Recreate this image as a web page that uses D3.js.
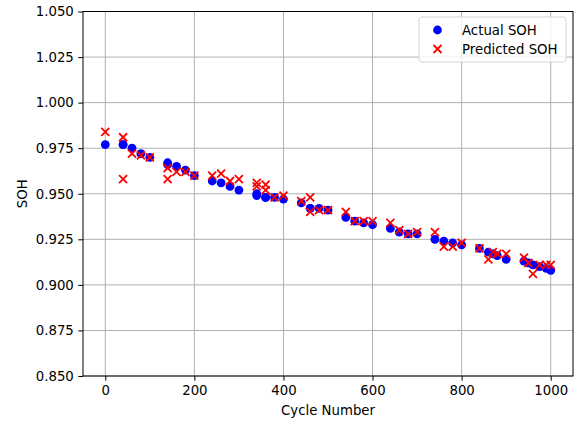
<!DOCTYPE html>
<html>
<head>
<meta charset="utf-8">
<script src="https://cdn.jsdelivr.net/npm/d3@7"></script>
<style>
  body { margin: 0; background: #fff; }
  text { font-family: "DejaVu Sans", sans-serif; fill: #000; }
</style>
</head>
<body>
<div id="chart"></div>
<script>
// cycle numbers of the test samples
const cycles = [0, 40, 40, 60, 80, 100, 140, 140, 160, 180, 200, 240, 260, 280, 300,
  340, 340, 360, 360, 380, 400, 440, 460, 460, 480, 500, 540, 560, 580, 600,
  640, 660, 680, 700, 740, 760, 780, 800, 840, 860, 870, 880, 900, 940, 950, 960, 975, 990, 1000];

const actualSOH = [0.977, 0.977, 0.977, 0.975, 0.972, 0.970, 0.967, 0.966, 0.965, 0.963, 0.960,
  0.957, 0.956, 0.954, 0.952, 0.950, 0.949, 0.948, 0.948, 0.948, 0.947, 0.945, 0.942, 0.942,
  0.942, 0.941, 0.937, 0.935, 0.934, 0.933, 0.931, 0.929, 0.928, 0.928, 0.925, 0.924, 0.923,
  0.922, 0.920, 0.918, 0.917, 0.916, 0.914, 0.913, 0.912, 0.911, 0.910, 0.909, 0.908];

const predictedSOH = [0.984, 0.981, 0.958, 0.972, 0.971, 0.970, 0.964, 0.958, 0.962, 0.962, 0.960,
  0.960, 0.961, 0.957, 0.958, 0.956, 0.954, 0.955, 0.952, 0.948, 0.949, 0.946, 0.948, 0.940,
  0.941, 0.941, 0.940, 0.935, 0.935, 0.935, 0.934, 0.930, 0.928, 0.929, 0.929, 0.921, 0.921,
  0.923, 0.920, 0.914, 0.918, 0.917, 0.917, 0.915, 0.912, 0.906, 0.911, 0.911, 0.911];

const xTicks = [0, 200, 400, 600, 800, 1000];
const yTicks = [0.850, 0.875, 0.900, 0.925, 0.950, 0.975, 1.000, 1.025, 1.050];
const legendLabels = ["Actual SOH", "Predicted SOH"];

const config = {
  width: 576, height: 423,
  margin: {top: 11.5, right: 3, bottom: 47, left: 83},
  fontSize: 13.3
};

const innerW = config.width - config.margin.left - config.margin.right;
const innerH = config.height - config.margin.top - config.margin.bottom;

const svg = d3.select("#chart").append("svg")
    .attr("width", config.width)
    .attr("height", config.height);

const chart = svg.append("g")
    .attr("transform", `translate(${config.margin.left},${config.margin.top})`);

const xScale = d3.scaleLinear().domain([-50, 1050]).range([0, innerW]);
const yScale = d3.scaleLinear().domain([0.85, 1.05]).range([innerH, 0]);

// grid
chart.append("g").selectAll("line").data(xTicks).join("line")
    .attr("x1", d => xScale(d)).attr("x2", d => xScale(d))
    .attr("y1", 0).attr("y2", innerH)
    .attr("stroke", "#b0b0b0").attr("stroke-width", 1);
chart.append("g").selectAll("line").data(yTicks).join("line")
    .attr("x1", 0).attr("x2", innerW)
    .attr("y1", d => yScale(d)).attr("y2", d => yScale(d))
    .attr("stroke", "#b0b0b0").attr("stroke-width", 1);

// axes
const xAxis = d3.axisBottom(xScale).tickValues(xTicks).tickFormat(d3.format("d"))
    .tickSize(4.7).tickPadding(4.5).tickSizeOuter(0);
const yAxis = d3.axisLeft(yScale).tickValues(yTicks).tickFormat(d3.format(".3f"))
    .tickSize(4.7).tickPadding(4.5).tickSizeOuter(0);

const xAxisG = chart.append("g").attr("transform", `translate(0,${innerH})`).call(xAxis);
const yAxisG = chart.append("g").call(yAxis);
[xAxisG, yAxisG].forEach(g => {
  g.select(".domain").remove();
  g.selectAll("line").attr("stroke", "#000").attr("stroke-width", 1);
  g.selectAll("text").attr("font-size", config.fontSize)
    .attr("font-family", "DejaVu Sans").attr("fill", "#000");
});

// spines
chart.append("rect")
    .attr("x", 0).attr("y", 0).attr("width", innerW).attr("height", innerH)
    .attr("fill", "none").attr("stroke", "#000").attr("stroke-width", 1);

const points = cycles.map((c, i) => ({c, a: actualSOH[i], p: predictedSOH[i]}));

// actual
chart.append("g").selectAll("circle").data(points).join("circle")
    .attr("cx", d => xScale(d.c))
    .attr("cy", d => yScale(d.a))
    .attr("r", 4.4)
    .attr("fill", "blue");

// predicted
const xs = 4;
const xPath = `M${-xs},${-xs}L${xs},${xs}M${-xs},${xs}L${xs},${-xs}`;
chart.append("g").selectAll("path").data(points).join("path")
    .attr("transform", d => `translate(${xScale(d.c)},${yScale(d.p)})`)
    .attr("d", xPath)
    .attr("stroke", "red").attr("stroke-width", 1.8).attr("fill", "none");

// axis titles
chart.append("text")
    .attr("x", innerW / 2).attr("y", innerH + 39)
    .attr("text-anchor", "middle")
    .attr("font-size", config.fontSize)
    .text("Cycle Number");

svg.append("text")
    .attr("transform", `translate(27,${config.margin.top + innerH / 2}) rotate(-90)`)
    .attr("text-anchor", "middle")
    .attr("font-size", config.fontSize)
    .text("SOH");

// legend
const legend = svg.append("g").attr("transform", "translate(419,17)");
legend.append("rect")
    .attr("width", 147).attr("height", 45).attr("rx", 3)
    .attr("fill", "#fff").attr("fill-opacity", 0.8)
    .attr("stroke", "#d6d6d6").attr("stroke-width", 1);
legendLabels.forEach((lab, i) => {
  const cy = 13 + i * 19;
  if (i === 0) {
    legend.append("circle").attr("cx", 18.5).attr("cy", cy).attr("r", 4.4).attr("fill", "blue");
  } else {
    legend.append("path").attr("transform", `translate(18.5,${cy})`).attr("d", xPath)
      .attr("stroke", "red").attr("stroke-width", 1.8).attr("fill", "none");
  }
  legend.append("text")
    .attr("x", 43).attr("y", cy + 4.8)
    .attr("font-size", config.fontSize)
    .text(lab);
});
</script>
</body>
</html>
